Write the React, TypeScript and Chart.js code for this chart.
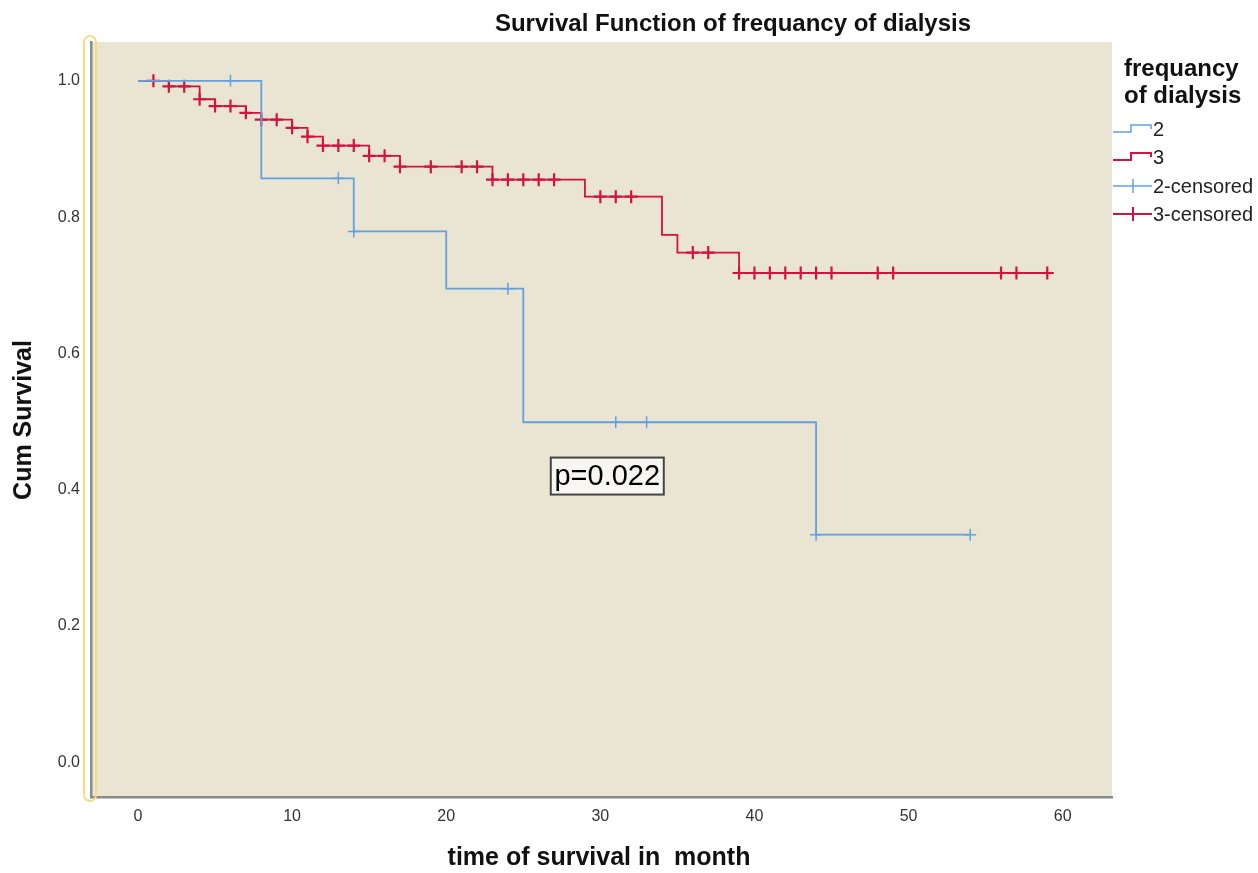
import React, { useEffect, useRef } from "react";
import { Chart, registerables } from "chart.js";

Chart.register(...registerables);

const chartTitle = "Survival Function of frequancy of dialysis";
const xAxisTitle = "time of survival in  month";
const yAxisTitle = "Cum Survival";
const legendTitle = ["frequancy", "of dialysis"];
const legendLabels = ["2", "3", "2-censored", "3-censored"];
const pValueText = "p=0.022";

const xTicks = [0, 10, 20, 30, 40, 50, 60];
const yTicks = [0, 0.2, 0.4, 0.6, 0.8, 1.0];

// group "2" (twice weekly)
const group2Times = [0, 8, 14, 20, 25, 44, 54];
const group2Surv = [1.0, 0.857, 0.779, 0.695, 0.499, 0.334, 0.334];
const group2Censored = [6, 13, 14, 24, 31, 33, 44, 54];

// group "3" (three times weekly)
const group3Times = [0, 2, 4, 5, 7, 8, 10, 11, 12, 15, 17, 23, 29, 34, 35, 39, 59];
const group3Surv = [1.0, 0.992, 0.973, 0.963, 0.953, 0.943, 0.931, 0.918, 0.905, 0.89, 0.874, 0.855, 0.83, 0.774, 0.748, 0.718, 0.718];
const group3Censored = [1, 2, 3, 4, 5, 6, 7, 8, 9, 10, 11, 12, 13, 14, 15, 16, 17, 19, 21, 22, 23, 24, 25, 26, 27, 30, 31, 32, 36, 37, 39, 40, 41, 42, 43, 44, 45, 48, 49, 56, 57, 59];

const BLUE = "#62a0e2";
const RED = "#d4123f";
const BG = "#eae5d2";
const FONT = "'Liberation Sans', Arial, sans-serif";

function survAt(times: number[], surv: number[], t: number) {
  let v = surv[0];
  for (let i = 0; i < times.length; i++) if (times[i] <= t) v = surv[i];
  return v;
}

const decorPlugin = {
  id: "decor",
  beforeDraw(chart: any) {
    const { ctx, chartArea } = chart;
    ctx.save();
    ctx.fillStyle = BG;
    ctx.fillRect(chartArea.left, chartArea.top, chartArea.right - chartArea.left, chartArea.bottom - chartArea.top);
    ctx.restore();
  },
  afterDatasetsDraw(chart: any) {
    const { ctx, scales } = chart;
    // p-value box
    const cx = scales.x.getPixelForValue(30.45);
    const cy = scales.y.getPixelForValue(0.42);
    ctx.save();
    ctx.font = `29px ${FONT}`;
    const w = 113, h = 37;
    ctx.fillStyle = "#f8f6f0";
    ctx.fillRect(cx - w / 2, cy - h / 2, w, h);
    ctx.strokeStyle = "#444";
    ctx.lineWidth = 2;
    ctx.strokeRect(cx - w / 2, cy - h / 2, w, h);
    ctx.fillStyle = "#000";
    ctx.textAlign = "center";
    ctx.textBaseline = "middle";
    ctx.fillText(pValueText, cx, cy + 1);
    ctx.restore();
  },
  afterDraw(chart: any) {
    const { ctx, chartArea } = chart;
    ctx.save();
    // title
    ctx.fillStyle = "#111";
    ctx.font = `bold 24px ${FONT}`;
    ctx.textAlign = "center";
    ctx.textBaseline = "middle";
    ctx.fillText(chartTitle, 733, 24);
    // x axis title
    ctx.font = `bold 25px ${FONT}`;
    ctx.fillText(xAxisTitle, 599, 858);
    // y axis title
    ctx.save();
    ctx.translate(24, 420);
    ctx.rotate(-Math.PI / 2);
    ctx.fillText(yAxisTitle, 0, 0);
    ctx.restore();
    // yellow highlight round axis
    ctx.strokeStyle = "#f5dc86";
    ctx.lineWidth = 2;
    const rx = chartArea.left - 7, ry = 36, rw = 12, rh = 765;
    ctx.beginPath();
    (ctx as any).roundRect(rx, ry, rw, rh, 6);
    ctx.stroke();
    // legend
    ctx.textAlign = "left";
    ctx.font = `bold 24px ${FONT}`;
    ctx.fillStyle = "#111";
    ctx.fillText(legendTitle[0], 1124, 69);
    ctx.fillText(legendTitle[1], 1124, 96);
    const rows = [129, 157, 186, 214];
    const cols = [BLUE, RED, BLUE, RED];
    ctx.font = `20px ${FONT}`;
    rows.forEach((y, i) => {
      ctx.strokeStyle = cols[i];
      ctx.lineWidth = i % 2 === 1 ? 2 : 1.5;
      ctx.beginPath();
      if (i < 2) {
        ctx.moveTo(1113, y + 3);
        ctx.lineTo(1131, y + 3);
        ctx.lineTo(1131, y - 4);
        ctx.lineTo(1151, y - 4);
        ctx.lineTo(1151, y);
      } else {
        ctx.moveTo(1113, y);
        ctx.lineTo(1152, y);
        ctx.moveTo(1133, y - 7);
        ctx.lineTo(1133, y + 7);
      }
      ctx.stroke();
      ctx.fillStyle = "#222";
      ctx.fillText(legendLabels[i], 1153, y + 1);
    });
    ctx.restore();
  },
};

export default function App() {
  const ref = useRef<HTMLCanvasElement | null>(null);
  useEffect(() => {
    if (!ref.current) return;
    const line2 = group2Times.map((t, i) => ({ x: t, y: group2Surv[i] }));
    const line3 = group3Times.map((t, i) => ({ x: t, y: group3Surv[i] }));
    const cens2 = group2Censored.map((t) => ({ x: t, y: survAt(group2Times, group2Surv, t) }));
    const cens3 = group3Censored.map((t) => ({ x: t, y: survAt(group3Times, group3Surv, t) }));
    const chart = new Chart(ref.current, {
      type: "line",
      data: {
        datasets: [
          { label: "2", data: line2, borderColor: BLUE, borderWidth: 1.8, stepped: true, pointRadius: 0, fill: false },
          { label: "3", data: line3, borderColor: RED, borderWidth: 1.8, stepped: true, pointRadius: 0, fill: false },
          { label: "2-censored", data: cens2, showLine: false, pointStyle: "cross", pointRadius: 6, borderColor: BLUE, backgroundColor: BLUE, pointBorderWidth: 1.5 },
          { label: "3-censored", data: cens3, showLine: false, pointStyle: "cross", pointRadius: 6.5, borderColor: RED, backgroundColor: RED, pointBorderWidth: 2.2 },
        ],
      },
      options: {
        animation: false,
        responsive: false,
        devicePixelRatio: 1,
        layout: { padding: { left: 0, right: 146, top: 42, bottom: 0 } },
        plugins: { legend: { display: false }, title: { display: false }, tooltip: { enabled: false } },
        scales: {
          x: {
            type: "linear",
            min: -3.05,
            max: 63.2,
            afterBuildTicks: (s: any) => { s.ticks = xTicks.map((v) => ({ value: v })); },
            afterFit: (s: any) => { s.height = 76; },
            grid: { display: false, drawTicks: false },
            border: { display: true, color: "#8a8a8a", width: 2.5 },
            ticks: { font: { size: 16, family: FONT }, color: "#333", padding: 10, maxRotation: 0 },
          },
          y: {
            type: "linear",
            min: -0.051,
            max: 1.057,
            afterBuildTicks: (s: any) => { s.ticks = yTicks.map((v) => ({ value: v })); },
            afterFit: (s: any) => { s.width = 91; },
            grid: { display: false, drawTicks: false },
            border: { display: true, color: "#8a8a8a", width: 2.5 },
            ticks: { font: { size: 16, family: FONT }, color: "#333", padding: 11, callback: (v: any) => Number(v).toFixed(1) },
          },
        },
      },
      plugins: [decorPlugin],
    });
    return () => chart.destroy();
  }, []);
  return (
    <div style={{ position: "absolute", left: 0, top: 0, width: 1258, height: 873, background: "#fff" }}>
      <canvas ref={ref} width={1258} height={873} style={{ width: 1258, height: 873 }} />
    </div>
  );
}
